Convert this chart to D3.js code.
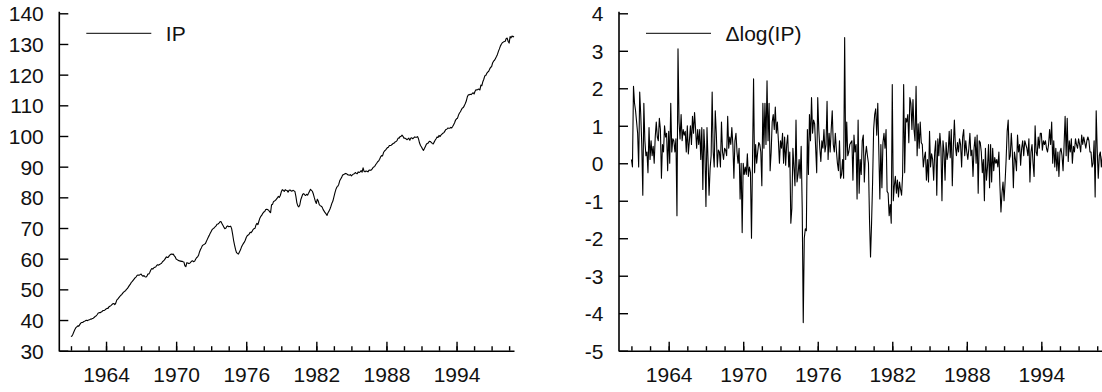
<!DOCTYPE html>
<html>
<head>
<meta charset="utf-8">
<script src="https://cdn.jsdelivr.net/npm/d3@7"></script>
<style>
  body { margin: 0; background: #fff; }
  svg text { font-family: "Liberation Sans", Arial, sans-serif; font-size: 21px; fill: #111; }
</style>
</head>
<body>
<svg id="chart" width="1102" height="392"></svg>
<script>
// monthly data, 1961:01 - 1998:12
const startYear = 1961;

const ip = [
  34.6, 34.8, 35.4, 36.2, 36.9, 37.5, 37.8, 38.1, 38.0, 38.5, 39.0, 39.2, // 1961
  39.2, 39.5, 39.6, 39.8, 39.9, 39.8, 40.0, 40.1, 40.3, 40.3, 40.5, 40.6, // 1962
  40.9, 41.2, 41.4, 41.8, 42.3, 42.4, 42.4, 42.6, 42.8, 43.1, 43.1, 43.3,
  43.6, 43.8, 43.8, 44.3, 44.5, 44.7, 45.0, 45.3, 45.4, 45.0, 45.5, 46.5,
  46.8, 47.2, 47.6, 48.0, 48.3, 48.7, 49.1, 49.3, 49.6, 50.0, 50.3, 50.8, // 1965
  51.3, 51.7, 52.3, 52.6, 53.0, 53.4, 53.8, 54.1, 54.6, 54.7, 54.6, 54.8,
  55.0, 54.5, 54.3, 54.5, 54.1, 54.0, 54.3, 55.0, 55.0, 55.6, 56.3, 56.8,
  56.6, 57.0, 57.2, 57.3, 57.8, 58.0, 57.9, 58.1, 58.3, 58.5, 59.0, 59.3,
  59.6, 60.1, 60.6, 60.4, 60.5, 61.0, 61.3, 61.5, 61.4, 61.5, 61.0, 60.6,
  59.9, 59.7, 59.5, 59.3, 59.3, 59.1, 59.2, 59.0, 58.9, 57.7, 57.4, 58.7, // 1970
  58.6, 58.4, 58.5, 58.9, 59.2, 59.3, 59.0, 59.2, 59.8, 60.3, 60.6, 61.1,
  62.2, 63.0, 63.6, 64.3, 64.5, 64.7, 64.9, 65.6, 66.3, 67.0, 67.6, 68.3,
  68.9, 69.5, 69.8, 70.0, 70.4, 70.7, 71.2, 71.3, 71.6, 72.0, 72.1, 71.5,
  70.9, 70.3, 69.8, 69.9, 70.5, 70.7, 70.4, 70.5, 70.6, 69.8, 68.0, 66.0,
  64.4, 63.0, 62.0, 61.7, 61.5, 62.2, 62.8, 63.7, 64.4, 64.9, 65.4, 66.0, // 1975
  66.9, 67.5, 67.7, 68.0, 68.6, 68.5, 68.9, 69.5, 69.8, 69.9, 71.0, 71.5,
  71.1, 72.2, 73.2, 73.8, 74.2, 74.8, 75.2, 75.4, 76.0, 76.1, 76.0, 75.8,
  75.3, 75.0, 77.6, 77.7, 78.6, 78.8, 79.0, 79.4, 79.8, 80.3, 80.0, 80.6,
  81.8, 82.5, 82.3, 81.9, 82.5, 82.3, 82.2, 81.7, 82.3, 82.4, 82.1, 82.0,
  82.3, 82.1, 81.9, 80.3, 78.2, 77.2, 76.9, 77.5, 79.2, 80.1, 81.0, 81.2, // 1980
  80.8, 80.6, 81.0, 80.7, 81.3, 82.0, 82.6, 82.3, 81.9, 81.0, 79.8, 78.7,
  78.0, 79.4, 78.8, 77.6, 77.3, 77.1, 76.8, 76.0, 75.5, 75.0, 74.6, 74.1,
  75.0, 75.5, 76.2, 77.1, 78.1, 78.8, 80.1, 81.4, 82.5, 83.3, 83.6, 84.2,
  85.4, 86.0, 86.5, 87.3, 87.4, 87.6, 87.8, 87.7, 87.4, 87.3, 87.2, 87.4,
  87.0, 87.3, 87.6, 87.7, 88.1, 87.8, 87.7, 88.3, 88.1, 88.3, 88.7, 88.2, // 1985
  89.6, 88.5, 88.3, 88.6, 88.5, 88.3, 88.8, 88.9, 88.8, 89.1, 89.6, 89.9,
  90.1, 90.7, 91.1, 91.6, 91.9, 92.4, 93.2, 93.6, 93.5, 94.6, 95.1, 95.4,
  95.8, 96.2, 96.3, 96.9, 96.9, 97.0, 97.3, 97.6, 97.7, 98.1, 98.2, 98.6,
  99.3, 99.3, 99.8, 99.9, 100.3, 99.9, 99.3, 99.3, 99.1, 98.8, 99.0, 99.3,
  98.6, 99.3, 99.4, 99.1, 99.4, 99.7, 99.6, 99.6, 99.8, 99.0, 97.7, 96.9, // 1990
  96.4, 95.8, 95.3, 95.9, 96.6, 97.3, 97.6, 97.7, 98.3, 98.2, 97.9, 97.6,
  97.4, 98.0, 98.6, 99.1, 99.7, 99.5, 100.2, 99.8, 100.3, 100.6, 100.9, 101.1,
  101.6, 102.1, 102.2, 102.6, 102.5, 102.5, 102.8, 102.6, 103.1, 103.7, 104.3, 105.2,
  105.6, 105.8, 106.8, 107.5, 107.9, 108.6, 109.1, 109.3, 109.9, 110.6, 111.4, 112.7,
  113.4, 113.4, 113.6, 113.5, 113.8, 114.1, 113.7, 114.6, 115.1, 115.0, 115.2, 115.3, // 1995
  115.0, 116.6, 116.4, 117.7, 118.5, 119.6, 119.7, 120.4, 120.8, 121.1, 121.8, 122.4,
  122.6, 123.8, 124.4, 124.7, 125.3, 125.9, 126.6, 127.6, 128.4, 129.3, 129.9, 130.4,
  130.6, 130.8, 130.9, 131.8, 131.9, 130.8, 130.3, 132.4, 132.0, 132.6, 132.3, 132.5
];

const dlogIp = [
  0.1, -0.1, 2.05, 1.6, 1.4, 1.1, 0.8, -0.1, 1.9, 1.3, 0.5, -0.85, // 1961
  1.6, 0.6, 0.2, 0.3, -0.25, 0.95, 0.1, 0.6, 0.2, 0.45, 0.0, 0.7,
  1.1, 0.7, 0.6, 1.2, 0.9, -0.4, 0.5, 0.3, 1.0, 0.7, 0.8, -0.2,
  0.85, 0.0, 1.6, 0.3, 0.65, 0.6, 0.3, 0.65, -1.4, 3.05, 1.1, 0.65,
  1.3, 0.6, 0.9, 0.75, 0.85, 0.3, 1.0, 0.25, 0.6, 1.0, 0.5, 1.25, // 1965
  0.8, 1.35, 0.9, 0.4, 0.9, 0.5, 0.9, 0.1, 0.95, -0.7, 0.9, 0.3,
  -1.15, 0.95, 0.1, -0.85, -0.15, 0.2, 1.9, 0.3, -0.1, 1.4, 0.8, -0.1,
  0.35, 0.3, -0.1, 1.1, 0.3, 0.1, 0.4, 0.35, 0.2, 1.25, 0.4, 0.7,
  0.5, 0.95, 0.5, -0.4, 0.6, 0.8, 0.3, 0.0, 0.4, -0.95, 0.0, -1.85,
  0.0, -0.3, -0.1, -0.3, 0.25, -0.35, -0.1, -0.25, -2.0, 0.1, 2.25, -0.25, // 1970
  0.5, 0.0, 0.3, 0.55, 0.5, 0.3, -0.6, 1.6, 0.4, 1.6, 0.5, 2.2,
  0.6, 1.6, -0.2, 0.3, 1.1, 1.3, 0.9, 1.5, 0.8, 1.1, 0.6, 0.0,
  0.6, 0.4, 0.8, 0.0, 0.7, -0.05, 0.5, 0.75, -0.1, 0.3, -1.6, -1.2,
  0.4, -0.1, -0.6, 1.15, -0.5, -0.3, 0.1, -0.4, 0.45, -1.2, -4.25, -2.0,
  -1.75, -1.8, 0.9, -0.3, 1.3, 0.6, 1.75, 0.8, 1.15, 1.05, 0.4, -0.25, // 1975
  1.75, 0.9, 0.4, 0.05, 0.6, 0.4, 0.9, 0.3, 0.5, 1.65, 0.1, 0.8,
  0.3, 0.9, 1.4, 0.5, 0.3, 0.8, 0.35, 0.0, -0.2, 0.6, -0.4, -0.3,
  0.1, -0.4, 3.35, 0.1, 1.1, 0.2, 0.3, 0.5, 0.55, 0.6, -0.45, 0.75,
  0.3, 0.5, -0.95, 1.15, -0.8, 0.1, -0.3, 0.6, 0.75, -0.5, 0.2, 0.45,
  0.2, 0.0, -1.5, -2.5, -1.6, -0.5, 0.9, 1.3, 1.45, 0.75, 1.6, 0.35, // 1980
  -0.95, 0.5, -0.65, 0.55, 0.8, 0.4, 0.9, -0.75, -0.8, -1.4, -1.1, -1.6,
  2.1, -1.0, -0.6, -0.35, -0.8, -0.45, -0.9, -0.5, -0.7, -0.85, -0.3, 2.1,
  -0.25, 1.2, 1.1, 1.3, 0.55, 1.75, 1.6, 0.9, 1.7, 0.9, 0.6, 2.05,
  0.2, 1.05, 0.4, 1.1, 0.55, 0.5, -0.1, 0.15, 0.3, -0.45, 0.1, -0.5,
  0.85, -0.1, 0.25, 0.1, -0.45, 0.3, 0.6, -0.85, 0.65, 0.2, 0.8, 0.4, // 1985
  -1.0, 0.6, 0.3, -0.45, 0.55, 0.1, 0.3, 0.85, 0.15, 0.9, -0.6, 0.45,
  1.15, 0.45, 0.2, 0.55, 0.3, 0.65, 0.5, -0.1, 0.7, 0.9, 0.2, 0.6,
  0.3, 0.1, 0.4, 0.8, 0.2, 0.35, -0.35, 0.4, 0.7, 0.0, 0.75, -0.8,
  0.6, 0.55, 0.3, -0.25, 0.1, -1.0, 0.4, -0.45, -0.1, 0.5, -0.65, 0.5,
  -0.5, 0.4, -0.2, 0.15, 0.0, 0.1, -0.1, 0.3, -0.6, -1.3, -0.8, -0.5, // 1990
  -1.0, -0.5, 0.1, 0.85, 1.15, 0.1, 0.2, 0.8, 0.3, -0.65, 0.3, 0.1,
  -0.2, 0.75, 0.3, 0.5, -0.05, 0.4, 0.6, 0.2, 0.6, 0.5, 0.4, 0.2,
  0.65, -0.5, 0.3, 0.5, 0.0, -0.35, 1.0, 0.3, 0.2, 0.7, 0.4, 0.8,
  0.8, 0.35, 0.6, 0.5, 0.6, 0.4, 0.3, 0.5, 0.9, 0.5, 1.1, 0.0,
  0.6, -0.1, 0.4, -0.2, 0.3, -0.35, 0.3, 0.4, 0.2, -0.2, 0.5, 1.25, // 1995
  0.2, 1.2, 0.05, 0.6, 0.3, 0.65, 0.0, 0.45, 0.3, 0.65, 0.5, 0.4,
  0.65, 0.5, 0.3, 0.75, 0.5, 0.7, 0.55, 0.4, 0.6, 0.7, 0.6, 0.3,
  0.3, -0.1, 0.0, 0.6, -0.9, 1.4, 0.35, -0.4, 0.2, 0.3, -0.1, 0.2
];

const majorTickYears = [1964, 1970, 1976, 1982, 1988, 1994];
const minorTickYears = d3.range(1961, 1999, 1.5);
const ipTicks = d3.range(30, 141, 10);
const dlogTicks = d3.range(-5, 5, 1);
const ipLabel = "IP";
const dlogLabel = "\u0394log(IP)";

const svg = d3.select("#chart");
const plotTop = 13.3, plotBottom = 350.7;

const drawPanel = (values, yDomain, yTicks, xLeft, xRight, label) => {
  const x = d3.scaleLinear().domain([1960, 1998.917]).range([xLeft, xRight]);
  const y = d3.scaleLinear().domain(yDomain).range([plotBottom, plotTop]);
  const g = svg.append("g");

  // minor ticks (inward)
  g.append("g")
    .attr("transform", "translate(0," + plotBottom + ")")
    .call(d3.axisBottom(x).tickValues(minorTickYears).tickSizeInner(-4.5).tickSizeOuter(0).tickFormat(""))
    .call(a => a.selectAll("line").attr("stroke", "#000").attr("stroke-width", 1.4))
    .call(a => a.select(".domain").attr("stroke", "#000").attr("stroke-width", 1.6));

  // major ticks + labels
  g.append("g")
    .attr("transform", "translate(0," + plotBottom + ")")
    .call(d3.axisBottom(x).tickValues(majorTickYears).tickSizeInner(-9).tickSizeOuter(0).tickFormat(d => String(d)))
    .call(a => a.select(".domain").remove())
    .call(a => a.selectAll("line").attr("stroke", "#000").attr("stroke-width", 1.4))
    .call(a => a.selectAll("text").attr("y", 31).attr("dy", 0));

  // y axis, plain hyphen for negatives like the original
  g.append("g")
    .attr("transform", "translate(" + xLeft + ",0)")
    .call(d3.axisLeft(y).tickValues(yTicks).tickSizeInner(-9).tickSizeOuter(0).tickFormat(d => String(d)))
    .call(a => a.select(".domain").attr("stroke", "#000").attr("stroke-width", 1.6).attr("d", "M0," + (plotBottom + 0.8) + "V" + (plotTop - 1.5)))
    .call(a => a.selectAll("line").attr("stroke", "#000").attr("stroke-width", 1.4))
    .call(a => a.selectAll("text").attr("x", -15.5).attr("dy", "0.36em"));

  // d3 axes set their own font attributes on the group; let the CSS win
  g.selectAll("g").attr("font-size", null).attr("font-family", null);

  const line = d3.line()
    .x((d, i) => x(startYear + i / 12))
    .y(d => y(d));

  g.append("path")
    .datum(values)
    .attr("fill", "none")
    .attr("stroke", "#000")
    .attr("stroke-width", 1.1)
    .attr("stroke-linejoin", "round")
    .attr("d", line);

  // legend
  g.append("line")
    .attr("x1", xLeft + 27).attr("x2", xLeft + 92)
    .attr("y1", 33.3).attr("y2", 33.3)
    .attr("stroke", "#000").attr("stroke-width", 1);
  g.append("text")
    .attr("x", xLeft + 106.5)
    .attr("y", 41.3)
    .text(label);
};

drawPanel(ip, [30, 140], ipTicks, 59.3, 514, ipLabel);
drawPanel(dlogIp, [-5, 4], dlogTicks, 619, 1102.4, dlogLabel);
</script>
</body>
</html>
